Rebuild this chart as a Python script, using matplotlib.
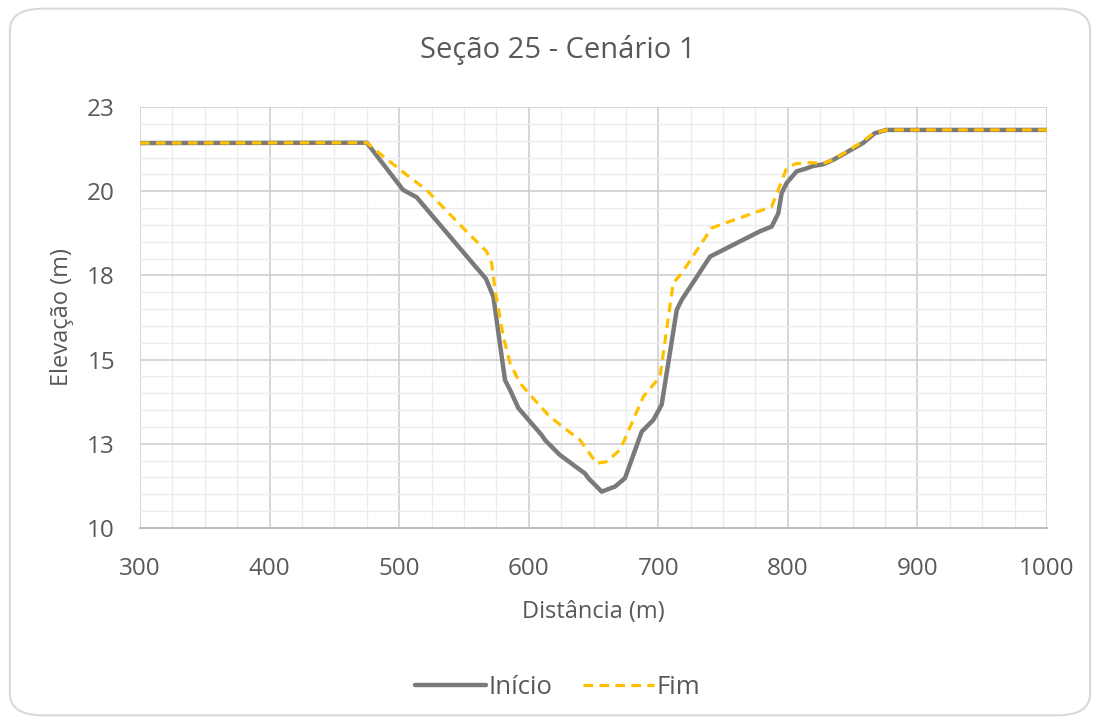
import numpy as np
import matplotlib.pyplot as plt
from matplotlib.patches import FancyBboxPatch
from matplotlib.ticker import MultipleLocator, FuncFormatter

plt.rcParams['font.family'] = ['Open Sans', 'DejaVu Sans']

# Seção 25 - perfil inicial
dist_inicio = [300, 475, 503, 513.5, 547, 567, 572.7, 581.7, 585.6, 592, 601, 610, 612.6,
               624, 643.4, 646, 656.3, 666.6, 674.3, 687.2, 696.2, 702.6, 714.2, 718,
               740, 778.5, 787.5, 792.6, 795.2, 799, 806.8, 813, 819.7, 827.3, 835,
               858, 867, 876, 1000]
elev_inicio = [21.43, 21.44, 20.04, 19.82, 18.30, 17.40, 16.87, 14.39, 14.10, 13.56, 13.16,
               12.76, 12.61, 12.17, 11.62, 11.48, 11.08, 11.23, 11.48, 12.86, 13.21, 13.66,
               16.47, 16.77, 18.06, 18.81, 18.95, 19.34, 19.94, 20.24, 20.59, 20.66, 20.75,
               20.80, 20.93, 21.43, 21.72, 21.82, 21.82]

# perfil final
dist_fim = [300, 475, 485, 506, 521, 547, 567.5, 571.4, 574, 580.4, 585.6, 593.3, 602.3,
            616.4, 639.6, 652.4, 660, 670.5, 688.5, 701.3, 711.5, 718, 741, 747.6,
            787.5, 792.6, 799, 805.5, 814.5, 827.3, 835, 858, 866, 876, 1000]
elev_fim = [21.43, 21.44, 21.12, 20.48, 20.04, 19.0, 18.21, 17.86, 17.07, 15.68, 14.89,
            14.30, 13.90, 13.30, 12.61, 11.92, 11.97, 12.32, 13.90, 14.49, 17.27, 17.56,
            18.90, 19.0, 19.54, 20.04, 20.68, 20.81, 20.85, 20.83, 20.93, 21.48, 21.72,
            21.82, 21.82]

txt = '#595959'

fig = plt.figure(figsize=(11, 7.24), dpi=100)
fig.patches.append(FancyBboxPatch((0.009, 0.012), 0.982, 0.976,
                                  boxstyle='round,pad=0,rounding_size=0.03',
                                  transform=fig.transFigure, facecolor='white',
                                  edgecolor='#d9d9d9', linewidth=1.5, zorder=-10))
ax = fig.add_axes([0.1273, 0.2707, 0.8245, 0.5815])
ax.set_facecolor('none')

ax.plot(dist_inicio, elev_inicio, color='#7a7a7a', lw=3.2, label='Início',
        solid_capstyle='round', solid_joinstyle='round', zorder=3)
ax.plot(dist_fim, elev_fim, color='#ffc000', lw=2.3, ls=(0, (3, 2)), label='Fim', zorder=4)

ax.set_xlim(300, 1000)
ax.set_ylim(10, 22.5)
ax.xaxis.set_major_locator(MultipleLocator(100))
ax.xaxis.set_minor_locator(MultipleLocator(25))
ax.yaxis.set_major_locator(MultipleLocator(2.5))
ax.yaxis.set_minor_locator(MultipleLocator(0.5))
ax.yaxis.set_major_formatter(FuncFormatter(lambda v, p: f'{int(np.floor(v + 0.5))}'))

ax.grid(which='major', color='#d0d0d0', lw=1.2)
ax.grid(which='minor', color='#ececec', lw=1.0)
ax.set_axisbelow(True)
for s in ['top', 'right', 'left']:
    ax.spines[s].set_visible(False)
ax.spines['bottom'].set_color('#bfbfbf')
ax.spines['bottom'].set_linewidth(1.5)
ax.tick_params(which='both', length=0, labelsize=17.5, labelcolor=txt)
ax.tick_params(axis='x', pad=21)
ax.tick_params(axis='y', pad=18)

ax.set_xlabel('Distância (m)', fontsize=17, color=txt, va='center')
ax.xaxis.set_label_coords(0.5, -0.2)
ax.set_ylabel('Elevação (m)', fontsize=17, color=txt, va='center')
ax.yaxis.set_label_coords(-0.086, 0.5)
fig.text(0.507, 0.931, 'Seção 25 - Cenário 1', fontsize=21, color=txt,
         ha='center', va='center')

fig.legend(loc='center', bbox_to_anchor=(0.507, 0.051), ncol=2, frameon=False,
           fontsize=18.5, labelcolor=txt, handlelength=2.75, handletextpad=0.1,
           columnspacing=1.2)

fig.savefig('out.png', dpi=100)
